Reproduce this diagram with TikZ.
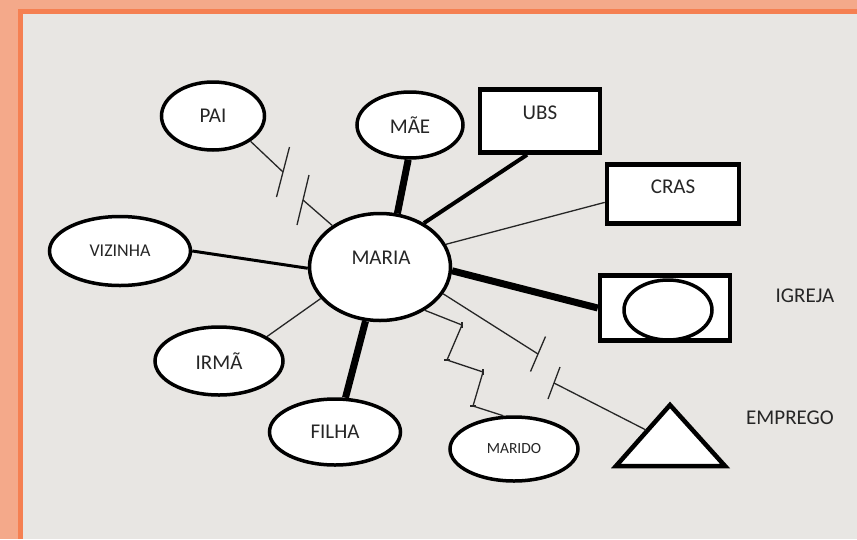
\documentclass[tikz,border=0pt]{standalone}
\usepackage{fontspec}
\setmainfont{Carlito}
\usetikzlibrary{shapes.geometric}

\definecolor{salmon}{RGB}{244,169,138}
\definecolor{rim}{RGB}{245,128,82}
\definecolor{paper}{RGB}{232,230,227}

\tikzset{
  person/.style={ellipse, draw, line width=3.5pt, fill=white, inner sep=0pt,
    text=black!85, font=\fontsize{21}{25}\selectfont},
  place/.style={rectangle, draw, line width=4.5pt, fill=white, inner sep=0pt},
  txt/.style={inner sep=0pt, text=black!85, font=\fontsize{21}{25}\selectfont},
  weaktie/.style={line width=1.3pt, black!85},
  midtie/.style={line width=3pt},
  strongtie/.style={line width=4pt},
  heavytie/.style={line width=7pt},
}

\begin{document}
\begin{tikzpicture}[x=1pt,y=-1pt]
      \useasboundingbox (0,0) rectangle (857,539);
      % frame
      \fill[salmon] (0,0) rectangle (857,539);
      \fill[rim] (18,9) rectangle (857,539);
      \fill[paper] (23,14) rectangle (857,539);
      % people
      \node[person, minimum width=141, minimum height=107] (maria) at (380,267) {};
      \node[txt] (mariatxt) at (381,258) {MARIA};
      \node[person, minimum width=103, minimum height=68] (pai) at (213,116) {PAI};
      \node[person, minimum width=106, minimum height=66] (mae) at (410,125) {MÃE};
      \node[person, minimum width=141, minimum height=69, font=\fontsize{18}{22}\selectfont] (vizinha) at (120,251) {VIZINHA};
      \node[person, minimum width=128, minimum height=68] (irma) at (219,361) {IRMÃ};
      \node[person, minimum width=131, minimum height=66] (filha) at (335,432) {FILHA};
      \node[person, minimum width=128, minimum height=64, font=\fontsize{15.5}{19}\selectfont] (marido) at (514,449) {MARIDO};
      % places
      \node[place, minimum width=120, minimum height=63] (ubs) at (540,121) {};
      \node[txt] (ubstxt) at (540,113) {UBS};
      \node[place, minimum width=132, minimum height=59] (cras) at (673,194) {};
      \node[txt] (crastxt) at (673,187) {CRAS};
      \node[place, minimum width=130, minimum height=65] (igreja) at (665,308) {};
      \node[ellipse, draw, line width=3.5pt, fill=white, minimum width=88, minimum height=60] (igrejain) at (668,310) {};
      \node[txt] (igrejatxt) at (805,296) {IGREJA};
      \draw[line width=4.5pt, fill=white] (616,466) -- (670,405) -- (725,466) -- cycle;
      \coordinate (emprego) at (646,430);
      \node[txt] (empregotxt) at (790,418) {EMPREGO};
      % ties
      \draw[heavytie] (maria.72) -- (mae.-93);
      \draw[strongtie] (maria.45) -- (ubs.249);
      \draw[weaktie] (maria.19) -- (cras.187);
      \draw[heavytie] (maria.-3) -- (igreja.west);
      \draw[midtie] (maria.181) -- (vizinha.east);
      \draw[weaktie] (maria.-152) -- (irma.27);
      \draw[heavytie] (maria.-105) -- (filha.73);
      % broken ties
      \coordinate (pai1) at (283,172);
      \coordinate (pai2) at (303,200);
      \draw[weaktie] (pai.-34) -- (pai1);
      \draw[weaktie] (pai2) -- (maria.139);
      \draw[weaktie] (pai1) ++(6.5,-25) -- ++(-13,50);
      \draw[weaktie] (pai2) ++(6,-25) -- ++(-12,50);
      \coordinate (emp1) at (538,354);
      \coordinate (emp2) at (554,383);
      \draw[weaktie] (maria.-23) -- (emp1);
      \draw[weaktie] (emp2) -- (emprego);
      \draw[weaktie] (emp1) ++(7.5,-17.5) -- ++(-15,35);
      \draw[weaktie] (emp2) ++(6,-16) -- ++(-12,32);
      % conflict
      \draw[weaktie] (maria.-44) -- (462,325) -- (447,360) -- (483,372) -- (473,406) -- (marido.108);
      \foreach \x/\y in {462/325,483/372}
      \draw[weaktie] (\x,\y-3) -- (\x,\y+3);
      \foreach \x/\y in {447/360,473/406}
      \draw[weaktie] (\x-3,\y) -- (\x+3,\y);
    \end{tikzpicture}
\end{document}
